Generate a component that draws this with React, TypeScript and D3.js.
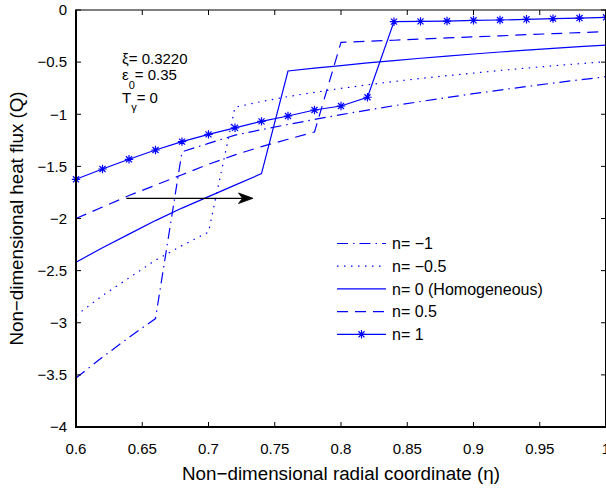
import React from 'react';
import * as d3 from 'd3';

// radial coordinate samples
const eta = [0.6, 0.62, 0.64, 0.66, 0.68, 0.7, 0.72, 0.74, 0.76, 0.78, 0.8, 0.82, 0.84, 0.86, 0.88, 0.9, 0.92, 0.94, 0.96, 0.98, 1.0];

// heat flux Q for each gradation index n
const qNeg1 = [-3.53, -3.33, -3.14, -2.96, -1.36, -1.28, -1.2, -1.148, -1.098, -1.05, -1.004, -0.96, -0.918, -0.878, -0.84, -0.803, -0.768, -0.734, -0.701, -0.67, -0.64];
const qNegHalf = [-2.93, -2.74, -2.57, -2.4, -2.26, -2.13, -0.933, -0.878, -0.83, -0.79, -0.752, -0.718, -0.686, -0.657, -0.63, -0.605, -0.58, -0.557, -0.535, -0.515, -0.495];
const q0 = [-2.42, -2.28, -2.15, -2.02, -1.9, -1.79, -1.68, -1.57, -0.585, -0.558, -0.533, -0.508, -0.485, -0.463, -0.442, -0.422, -0.403, -0.385, -0.368, -0.352, -0.336];
const qHalf = [-2.0, -1.89, -1.78, -1.68, -1.58, -1.48, -1.39, -1.31, -1.24, -1.17, -0.31, -0.3, -0.29, -0.279, -0.268, -0.258, -0.248, -0.237, -0.227, -0.217, -0.208];
const q1 = [-1.624, -1.525, -1.432, -1.343, -1.263, -1.193, -1.13, -1.068, -1.017, -0.959, -0.921, -0.837, -0.112, -0.109, -0.106, -0.099, -0.096, -0.089, -0.083, -0.077, -0.07];

const xTicks = [0.6, 0.65, 0.7, 0.75, 0.8, 0.85, 0.9, 0.95, 1];
const xTickLabels = ['0.6', '0.65', '0.7', '0.75', '0.8', '0.85', '0.9', '0.95', '1'];
const yTicks = [0, -0.5, -1, -1.5, -2, -2.5, -3, -3.5, -4];
const yTickLabels = ['0', '\u22120.5', '\u22121', '\u22121.5', '\u22122', '\u22122.5', '\u22123', '\u22123.5', '\u22124'];

const legendLabels = ['n= \u22121', 'n= \u22120.5', 'n= 0 (Homogeneous)', 'n= 0.5', 'n= 1'];

// arrow annotation (data coords)
const arrowFrom = [0.638, -1.806];
const arrowTo = [0.7336, -1.806];

const BLUE = '#0000ff';
const FONT = '"Liberation Sans", Arial, Helvetica, sans-serif';

const series = [
  { q: qNeg1, dash: '11,5,1.5,5', star: false },
  { q: qNegHalf, dash: '1.5,5.5', star: false },
  { q: q0, dash: null, star: false },
  { q: qHalf, dash: '11,7', star: false },
  { q: q1, dash: null, star: true },
];

const Star = ({ x, y }: { x: number; y: number }) => {
  const r = 4.2;
  const d = r * 0.72;
  return (
    <path
      d={`M${x - r},${y}H${x + r}M${x},${y - r}V${y + r}M${x - d},${y - d}L${x + d},${y + d}M${x - d},${y + d}L${x + d},${y - d}`}
      stroke={BLUE}
      strokeWidth={1.2}
      fill="none"
    />
  );
};

export default function App() {
  const W = 606;
  const H = 489;
  const left = 76, right = 606, top = 10, bottom = 427;

  const x = d3.scaleLinear().domain([0.6, 1]).range([left, right]);
  const y = d3.scaleLinear().domain([-4, 0]).range([bottom, top]);

  const line = d3.line<number>().x((_, i) => x(eta[i])).y((d) => y(d));

  const tick = 5;

  const legX0 = 337, legX1 = 386, legTextX = 392;
  const legY0 = 243.5, legStep = 22.7;

  const ax = x(arrowFrom[0]);
  const ay = y(arrowFrom[1]);
  const bx = x(arrowTo[0]);

  return (
    <svg width={W} height={H} style={{ position: 'absolute', left: 0, top: 0, background: '#fff' }} fontFamily={FONT}>
      <rect x={0} y={0} width={W} height={H} fill="#fff" />

      {/* curves */}
      {series.map((s, k) => (
        <path
          key={k}
          d={line(s.q) || ''}
          fill="none"
          stroke={BLUE}
          strokeWidth={1.2}
          strokeDasharray={s.dash || undefined}
        />
      ))}
      {q1.map((v, i) => (
        <Star key={i} x={x(eta[i])} y={y(v)} />
      ))}

      {/* frame */}
      <line x1={left} x2={right} y1={top} y2={top} stroke="#000" strokeWidth={1} />
      <line x1={right - 0.5} x2={right - 0.5} y1={top} y2={bottom} stroke="#000" strokeWidth={1} />
      <line x1={left} x2={left} y1={top - 0.5} y2={bottom + 1} stroke="#000" strokeWidth={2} />
      <line x1={left - 1} x2={right} y1={bottom} y2={bottom} stroke="#000" strokeWidth={2} />

      {/* x ticks */}
      {xTicks.map((t, i) => (
        <g key={i}>
          <line x1={x(t)} x2={x(t)} y1={bottom} y2={bottom - tick} stroke="#000" strokeWidth={1} />
          <line x1={x(t)} x2={x(t)} y1={top} y2={top + tick} stroke="#000" strokeWidth={1} />
          <text x={x(t)} y={454} textAnchor="middle" fontSize={15} fill="#000">
            {xTickLabels[i]}
          </text>
        </g>
      ))}

      {/* y ticks */}
      {yTicks.map((t, i) => (
        <g key={i}>
          <line x1={left} x2={left + tick} y1={y(t)} y2={y(t)} stroke="#000" strokeWidth={1} />
          <line x1={right} x2={right - tick} y1={y(t)} y2={y(t)} stroke="#000" strokeWidth={1} />
          <text x={67} y={y(t) + 5.3} textAnchor="end" fontSize={15} fill="#000">
            {yTickLabels[i]}
          </text>
        </g>
      ))}

      {/* axis titles */}
      <text x={(left + right) / 2} y={479.5} textAnchor="middle" fontSize={18.8} fill="#000">
        Non{'\u2212'}dimensional radial coordinate ({'\u03B7'})
      </text>
      <text
        transform={`translate(23,${(top + bottom) / 2}) rotate(-90)`}
        textAnchor="middle"
        fontSize={18.8}
        fill="#000"
      >
        Non{'\u2212'}dimensional heat flux (Q)
      </text>

      {/* parameter annotation */}
      <text x={122} y={64} fontSize={15} fill="#000">
        {'\u03BE'}= 0.3220
      </text>
      <text x={122} y={80} fontSize={15} fill="#000">
        {'\u03B5'}
        <tspan fontSize={11} dy={9}>0</tspan>
        <tspan dy={-9}>= 0.35</tspan>
      </text>
      <text x={122} y={103} fontSize={15} fill="#000">
        T
        <tspan fontSize={11} dy={8}>{'\u03B3'}</tspan>
        <tspan dy={-8}>= 0</tspan>
      </text>

      {/* arrow */}
      <line x1={ax} x2={bx - 8} y1={ay} y2={ay} stroke="#000" strokeWidth={1.2} />
      <path
        d={`M${bx},${ay}L${bx - 14.5},${ay - 5.3}L${bx - 10.5},${ay}L${bx - 14.5},${ay + 5.3}Z`}
        fill="#000"
        stroke="#000"
        strokeWidth={0.8}
      />

      {/* legend */}
      {series.map((s, k) => {
        const ly = legY0 + k * legStep;
        return (
          <g key={k}>
            <line
              x1={legX0}
              x2={legX1}
              y1={ly}
              y2={ly}
              stroke={BLUE}
              strokeWidth={1.2}
              strokeDasharray={s.dash || undefined}
            />
            {s.star && <Star x={(legX0 + legX1) / 2} y={ly} />}
            <text x={legTextX} y={ly + 5.6} fontSize={16} fill="#000">
              {legendLabels[k]}
            </text>
          </g>
        );
      })}
    </svg>
  );
}
